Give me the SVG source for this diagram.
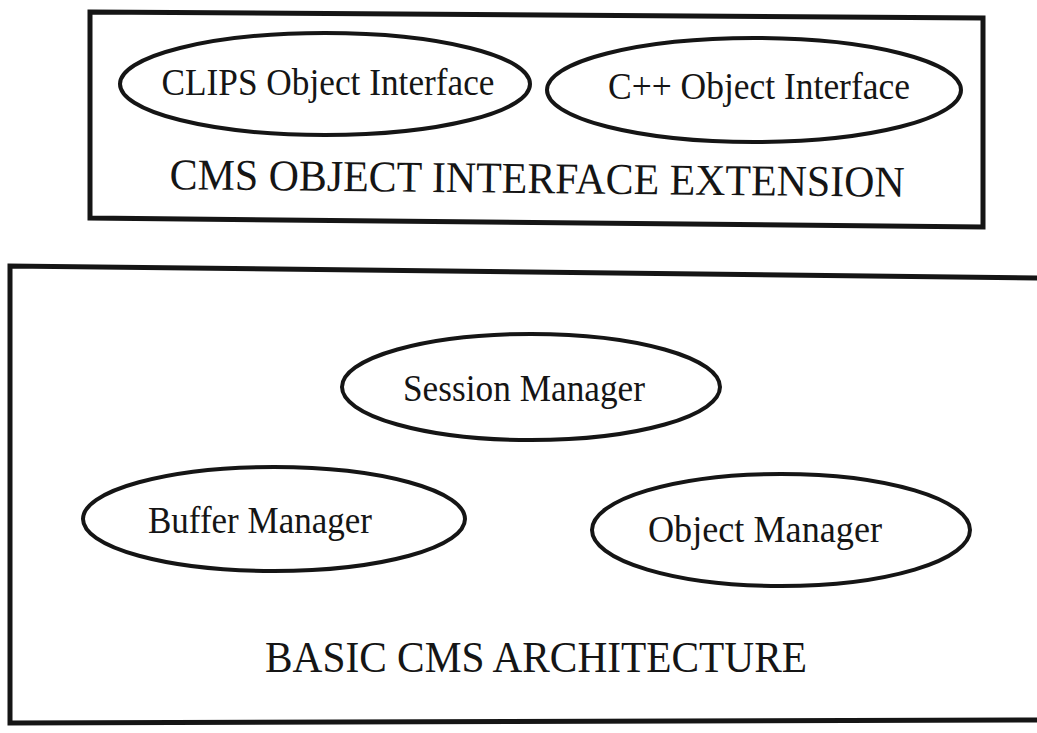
<svg xmlns="http://www.w3.org/2000/svg" width="1037" height="733" viewBox="0 0 1037 733">
  <style>
    .frame { fill: none; stroke: #151515; stroke-width: 5; stroke-linejoin: miter; }
    .node ellipse { fill: none; stroke: #151515; stroke-width: 4; }
    .label { font-family: "Liberation Serif", "Times New Roman", serif; font-size: 37px; fill: #151515; text-anchor: middle; }
    .title { font-family: "Liberation Serif", "Times New Roman", serif; font-size: 44px; fill: #151515; text-anchor: middle; }
  </style>
  <rect width="1037" height="733" fill="#ffffff"/>

  <!-- Extension layer -->
  <g id="extension-layer">
    <polygon class="frame" points="90,12 983,18 983,227 90,218"/>
    <text class="title" x="537" y="193" transform="rotate(0.6 537 193)" textLength="735" lengthAdjust="spacingAndGlyphs">CMS OBJECT INTERFACE EXTENSION</text>
  </g>
  <g id="clips-interface" class="node">
    <ellipse cx="325" cy="84" rx="205" ry="51"/>
    <text class="label" x="328" y="95" textLength="333" lengthAdjust="spacingAndGlyphs">CLIPS Object Interface</text>
  </g>
  <g id="cpp-interface" class="node">
    <ellipse cx="754" cy="90" rx="207" ry="52"/>
    <text class="label" x="759" y="99" textLength="302" lengthAdjust="spacingAndGlyphs">C++ Object Interface</text>
  </g>

  <!-- Basic architecture layer -->
  <g id="basic-layer">
    <polyline class="frame" points="1040,278 10,266 10,723 1040,720"/>
    <text class="title" x="536" y="672" textLength="542" lengthAdjust="spacingAndGlyphs">BASIC CMS ARCHITECTURE</text>
  </g>
  <g id="session-manager" class="node">
    <ellipse cx="531" cy="387" rx="189" ry="53"/>
    <text class="label" x="524" y="401" textLength="242" lengthAdjust="spacingAndGlyphs">Session Manager</text>
  </g>
  <g id="buffer-manager" class="node">
    <ellipse cx="274" cy="519" rx="191" ry="52"/>
    <text class="label" x="260" y="533" textLength="224" lengthAdjust="spacingAndGlyphs">Buffer Manager</text>
  </g>
  <g id="object-manager" class="node">
    <ellipse cx="781" cy="530" rx="189" ry="56"/>
    <text class="label" x="765" y="542" textLength="234" lengthAdjust="spacingAndGlyphs">Object Manager</text>
  </g>

  <!-- No connectors between layers -->
  <g id="connectors"/>
</svg>
